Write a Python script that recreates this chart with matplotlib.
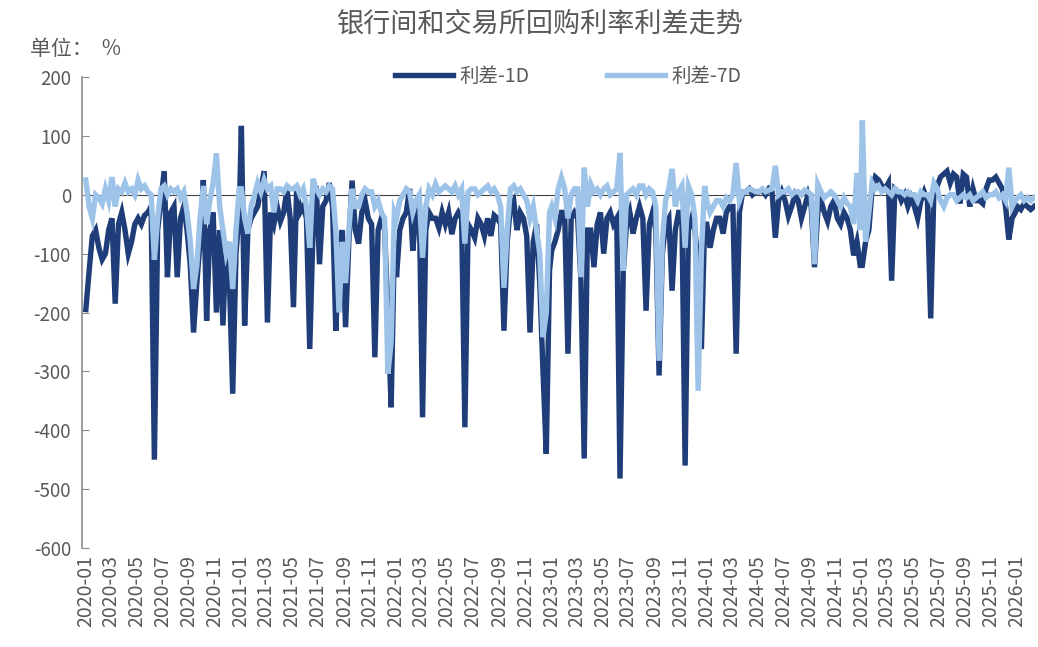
import matplotlib
matplotlib.use("Agg")
import matplotlib.pyplot as plt
import matplotlib.dates as mdates
import pandas as pd

plt.rcParams['font.family'] = ['Noto Sans CJK SC', 'DejaVu Sans']
plt.rcParams['axes.unicode_minus'] = False

# 利差-1D，按年份、每月4个观测
d1_2020 = [-195, -130, -70, -60,  -90, -110, -100, -60,  -40, -185, -50, -30,
           -60, -100, -80, -50,   -40, -50, -35, -30,    -20, -450, -60, -10,
           40, -140, -30, -20,    -140, -40, -20, -60,   -120, -234, -150, -80,
           25, -214, -60, -30,    -200, -60, -222, -80,  -150, -338, -100, -30]
d1_2021 = [117, -222, -60, -40,   -30, -20, 10, 40,      -217, -30, -50, -20,
           -45, -30, 10, -40,     -191, 15, -30, -20,    -40, -262, -60, 15,
           -118, -20, -10, 20,    -20, -231, -100, -60,  -225, -80, 24, -60,
           -83, -30, -10, -40,    -50, -276, -60, -40,   -60, -200, -361, -80]
d1_2022 = [-140, -60, -40, -30,   10, -95, -30, -20,     -378, -60, -30, -40,
           -40, -56, -30, -50,    -30, -67, -40, -30,    -40, -395, -50, -60,
           -73, -40, -50, -70,    -40, -70, -35, -40,    -50, -231, -80, -20,
           -10, -60, -30, -40,    -70, -234, -80, -50,   -150, -300, -440, -129]
d1_2023 = [-95, -80, -60, -30,    -30, -270, -40, -30,   -40, -146, -448, -60,
           -60, -123, -50, -30,   -100, -40, -30, -50,   -40, -482, -130, -50,
           -30, -66, -40, -20,    -40, -197, -50, -30,   -60, -307, -100, -50,
           -40, -163, -60, -30,   -30, -460, -60, -40,   -60, -120, -262, -50]
d1_2024 = [-50, -90, -60, -40,    -40, -66, -30, -20,    -20, -270, -30, 5,
           5, 10, 0, 5,           5, 8, 0, 10,           5, -73, -10, 5,
           -10, -36, -20, 0,      -10, -40, -20, 0,      -20, -123, -30, -10,
           -30, -45, -20, -10,    -40, -50, -30, -40,    -60, -103, -80, -120]
d1_2025 = [-120, -80, -60, 10,    30, 25, 15, 10,        20, -146, 10, 5,
           -10, 0, -20, -5,       -20, -40, -10, 5,      -10, -210, 10, 15,
           30, 35, 40, 20,        35, 30, -15, 35,       30, -20, 10, -10,
           -10, -15, 10, 25,      25, 30, 20, 10,        -20, -76, -40, -30]
d1_2026 = [-20, -25, -15, -20, -25, -20]

# 利差-7D
d7_2020 = [25, -20, -40, 0,       -5, -15, 10, -10,      30, -20, 10, 5,
           20, 5, 10, 0,          25, 10, 15, 5,         0, -110, -40, 10,
           15, 0, 10, 5,          10, -5, 5, -30,        -80, -160, -120, -40,
           15, -50, -10, 20,      70, -20, -60, -100,    -80, -160, -60, 10]
d7_2021 = [10, -40, -66, -20,     0, 20, 5, 25,          10, 15, -30, 10,
           10, 5, 15, 10,         10, 15, 0, 10,         -20, -90, 27, 10,
           0, 10, 5, 15,          10, -60, -200, -80,    -150, -60, 10, -20,
           -20, 0, 10, 5,         5, -20, -10, -30,      -40, -304, -250, -30]
d7_2022 = [-40, -10, 0, 10,       5, -30, -10, 0,        -107, -20, 10, 0,
           18, 5, 10, 15,         10, 5, 15, 0,          10, -83, 5, 10,
           10, 0, 5, 10,          15, 5, 10, 0,          -20, -158, -60, 10,
           15, 5, 10, 0,          -10, -40, -20, -60,    -100, -242, -200, -30]
d7_2023 = [-20, -40, 10, 29,      10, -40, 0, 10,        10, -140, 46, -20,
           18, 5, 10, 0,          10, 15, 0, 5,          10, 71, -129, 0,
           5, 10, 0, 15,          15, 0, 10, 5,          -20, -282, -80, -10,
           10, 44, -20, 5,        15, -90, 15, 0,        -40, -333, -100, 15]
d7_2024 = [-10, -30, -20, -10,    -10, -20, -5, -10,     0, 54, -10, 5,
           5, 10, 8, 5,           5, 10, 5, 8,           10, 49, 0, 5,
           5, 10, 0, 5,           5, 0, 8, 5,            0, -118, 18, 5,
           -5, 0, 5, 0,           -10, -20, -5, -15,     -20, -50, 37, -60]
d7_2025 = [126, -80, -30, 20,     10, 15, 5, 10,         5, 0, 10, 5,
           5, 0, 5, 0,            0, -10, 5, 0,          0, -10, 20, 10,
           -10, -20, -5, 0,       0, -10, -5, 0,         -5, 0, -10, -5,
           0, 5, -5, 0,           0, 5, -5, 0,           -10, 46, -20, -10]
d7_2026 = [-5, 0, -10, -5, -10, -5]

years = [2020, 2021, 2022, 2023, 2024, 2025, 2026]
d1_by_year = [d1_2020, d1_2021, d1_2022, d1_2023, d1_2024, d1_2025, d1_2026]
d7_by_year = [d7_2020, d7_2021, d7_2022, d7_2023, d7_2024, d7_2025, d7_2026]


def to_series(by_year):
    parts = []
    for y, vals in zip(years, by_year):
        end = f'{y}-12-28' if y < 2026 else '2026-02-10'
        idx = pd.date_range(f'{y}-01-02', end, periods=len(vals))
        parts.append(pd.Series(vals, index=idx))
    return pd.concat(parts)


s1 = to_series(d1_by_year)
s7 = to_series(d7_by_year)

dark = '#1F3E79'
light = '#9DC3E8'
grey = '#595959'

fig = plt.figure(figsize=(10.38, 6.47), dpi=100)
ax = fig.add_axes([0.079, 0.153, 0.918, 0.728])

ax.plot(s1.index, s1.values, color=dark, lw=3.9, label='利差-1D', zorder=2,
        solid_joinstyle='miter')
ax.plot(s7.index, s7.values, color=light, lw=3.9, label='利差-7D', zorder=3,
        solid_joinstyle='miter')
ax.axhline(0, color='#404040', lw=0.8, zorder=1)

ax.set_ylim(-600, 200)
ax.set_yticks(range(-600, 201, 100))
ax.set_xlim(pd.Timestamp('2019-12-24'), pd.Timestamp('2026-02-12'))
ax.xaxis.set_major_locator(mdates.MonthLocator(bymonth=[1, 3, 5, 7, 9, 11]))
ax.xaxis.set_major_formatter(mdates.DateFormatter('%Y-%m'))

for side in ['top', 'right', 'bottom']:
    ax.spines[side].set_visible(False)
ax.spines['left'].set_color('#8C8C8C')
ax.spines['left'].set_linewidth(1.2)
ax.tick_params(axis='y', direction='in', length=5, color='#8C8C8C',
               labelsize=13.5, labelcolor=grey, pad=8)
ax.tick_params(axis='x', length=0, labelsize=14, labelcolor=grey,
               labelrotation=90, pad=5)

fig.text(0.52, 0.963, '银行间和交易所回购利率利差走势', ha='center', va='center',
         fontsize=19.5, color=grey)
fig.text(0.029, 0.925, '单位：  %', ha='left', va='center', fontsize=15, color=grey)

ax.legend(loc='upper center', bbox_to_anchor=(0.51, 1.06), ncol=2, frameon=False,
          fontsize=14, handlelength=3.0, columnspacing=4.0, handletextpad=0.3,
          labelcolor=grey)

fig.savefig('out.png', dpi=100)
